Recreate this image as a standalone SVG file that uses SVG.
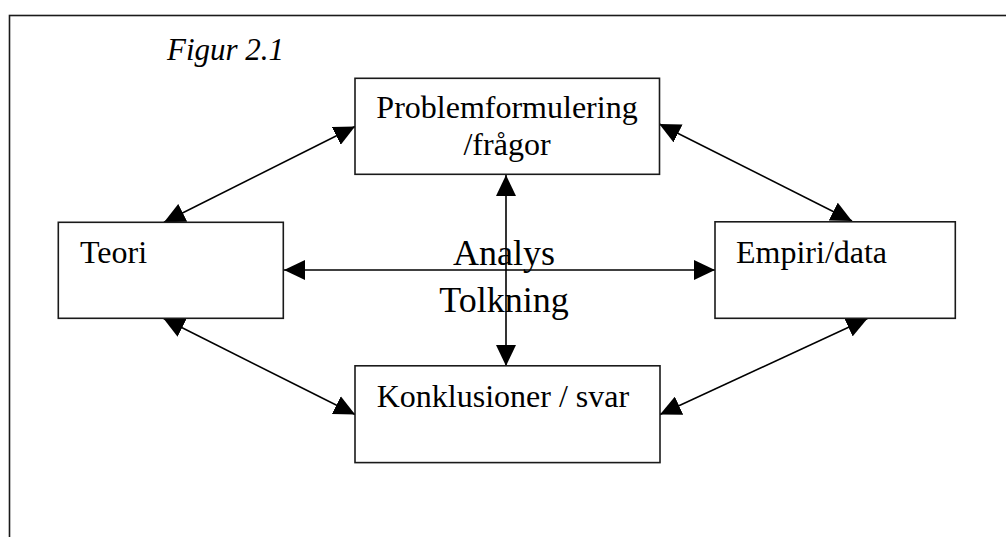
<svg xmlns="http://www.w3.org/2000/svg" width="1006" height="537" viewBox="0 0 1006 537">
  <style>
    .frame { fill: none; stroke: #1a1a1a; stroke-width: 1.6; }
    .box { fill: #ffffff; stroke: #1a1a1a; stroke-width: 1.6; }
    .link { fill: none; stroke: #000000; stroke-width: 1.6; marker-start: url(#head); marker-end: url(#head); }
    .label { font-family: "Liberation Serif", "Times New Roman", serif; font-size: 32px; fill: #000000; }
    .big { font-size: 36px; }
    .title { font-style: italic; font-size: 31px; }
  </style>
  <defs>
    <marker id="head" markerUnits="userSpaceOnUse" viewBox="0 0 21 20" markerWidth="21" markerHeight="20" refX="21" refY="10" orient="auto-start-reverse">
      <path d="M0,0 L21,10 L0,20 Z" fill="#000000"/>
    </marker>
  </defs>

  <rect class="frame" x="9.5" y="15.5" width="1200" height="700"/>
  <text class="label title" x="167" y="60">Figur 2.1</text>

  <!-- two-headed connectors; boxes are drawn afterwards and hide the inner part of each head -->
  <g id="connectors">
    <line class="link" x1="164" y1="222.3" x2="355" y2="126.5"/>
    <line class="link" x1="659.3" y1="124" x2="852" y2="221"/>
    <line class="link" x1="163.3" y1="318.3" x2="355.1" y2="414.5"/>
    <line class="link" x1="660" y1="414.5" x2="867.5" y2="318.5"/>
    <line class="link" x1="284" y1="270" x2="715" y2="270"/>
    <line class="link" x1="506" y1="175" x2="506" y2="366"/>
  </g>

  <g id="problem">
    <rect class="box" x="355" y="78.3" width="304.5" height="96"/>
    <text class="label" x="507" y="118" text-anchor="middle">Problemformulering</text>
    <text class="label" x="507" y="155" text-anchor="middle">/frågor</text>
  </g>

  <g id="teori">
    <rect class="box" x="58.3" y="222.3" width="225" height="96"/>
    <text class="label" x="80" y="263.3">Teori</text>
  </g>

  <g id="empiri">
    <rect class="box" x="715" y="221.8" width="240.3" height="96.5"/>
    <text class="label" x="736" y="262.7">Empiri/data</text>
  </g>

  <g id="konklusioner">
    <rect class="box" x="355" y="365.8" width="305" height="96.8"/>
    <text class="label" x="376.7" y="407.3">Konklusioner / svar</text>
  </g>

  <g id="analys">
    <text class="label big" x="504" y="265" text-anchor="middle">Analys</text>
    <text class="label big" x="504" y="311.7" text-anchor="middle">Tolkning</text>
  </g>
</svg>
